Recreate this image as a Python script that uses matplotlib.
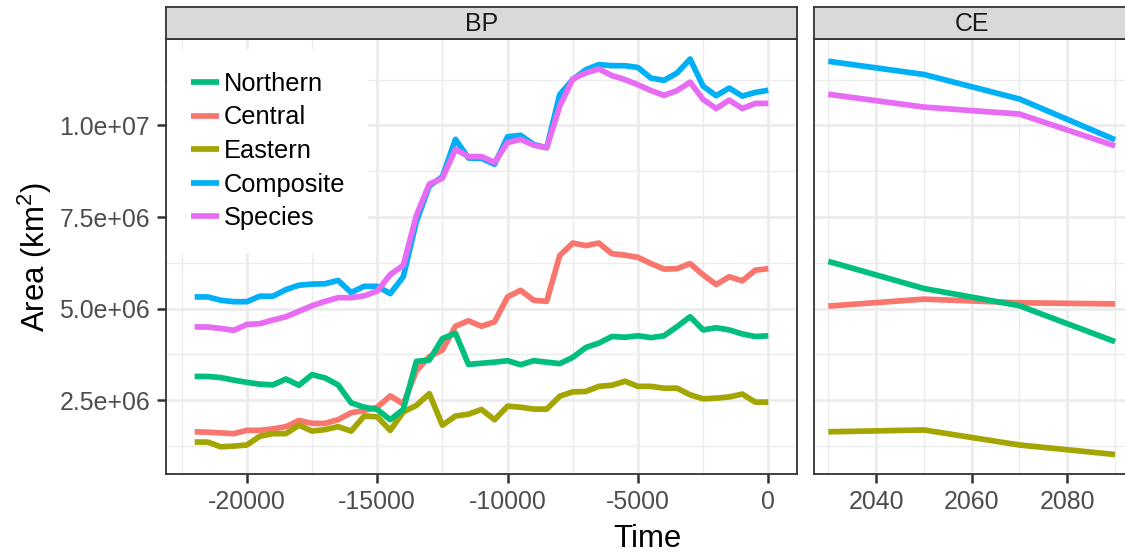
import numpy as np
import matplotlib
matplotlib.use("Agg")
import matplotlib.pyplot as plt
from matplotlib.ticker import FixedLocator, FuncFormatter

plt.rcParams['font.family'] = ['Liberation Sans', 'DejaVu Sans']
plt.rcParams['mathtext.fontset'] = 'custom'
plt.rcParams['mathtext.rm'] = 'Liberation Sans'
plt.rcParams['mathtext.it'] = 'Liberation Sans:italic'
plt.rcParams['axes.unicode_minus'] = False

# range area (km^2, in millions) through time
bp_time = np.arange(-22000, 1, 500)
ce_time = [2030, 2050, 2070, 2090]

bp_northern = [3.15, 3.15, 3.12, 3.05, 2.99, 2.94, 2.92, 3.08, 2.91, 3.20, 3.11, 2.92, 2.43, 2.31, 2.25,
               1.97, 2.25, 3.56, 3.60, 4.18, 4.33, 3.48, 3.51, 3.54, 3.58, 3.47, 3.58, 3.54, 3.50, 3.67,
               3.94, 4.06, 4.24, 4.22, 4.26, 4.21, 4.26, 4.51, 4.78, 4.42, 4.48, 4.42, 4.31, 4.24, 4.26]
bp_central = [1.64, 1.63, 1.61, 1.59, 1.68, 1.68, 1.72, 1.78, 1.95, 1.87, 1.87, 1.97, 2.16, 2.22, 2.31,
              2.62, 2.40, 3.30, 3.69, 3.87, 4.52, 4.67, 4.52, 4.64, 5.32, 5.50, 5.23, 5.20, 6.45, 6.79,
              6.72, 6.79, 6.50, 6.46, 6.40, 6.23, 6.08, 6.09, 6.23, 5.92, 5.66, 5.87, 5.76, 6.05, 6.09]
bp_eastern = [1.36, 1.36, 1.23, 1.25, 1.28, 1.52, 1.59, 1.59, 1.82, 1.66, 1.70, 1.78, 1.66, 2.07, 2.05,
              1.68, 2.18, 2.36, 2.68, 1.82, 2.07, 2.12, 2.25, 1.97, 2.34, 2.31, 2.26, 2.26, 2.61, 2.73,
              2.74, 2.88, 2.91, 3.02, 2.88, 2.88, 2.83, 2.83, 2.65, 2.54, 2.56, 2.59, 2.67, 2.45, 2.45]
bp_composite = [5.32, 5.32, 5.23, 5.19, 5.19, 5.34, 5.34, 5.52, 5.64, 5.67, 5.68, 5.77, 5.44, 5.61, 5.61,
                5.41, 5.87, 7.37, 8.35, 8.60, 9.62, 9.11, 9.10, 8.94, 9.69, 9.73, 9.48, 9.39, 10.84, 11.25,
                11.52, 11.66, 11.63, 11.63, 11.58, 11.29, 11.23, 11.43, 11.81, 11.07, 10.81, 11.02, 10.80, 10.90, 10.96]
bp_species = [4.50, 4.50, 4.46, 4.41, 4.57, 4.59, 4.69, 4.78, 4.93, 5.08, 5.20, 5.30, 5.30, 5.35, 5.48,
              5.93, 6.18, 7.54, 8.40, 8.56, 9.35, 9.15, 9.15, 8.99, 9.53, 9.62, 9.46, 9.39, 10.52, 11.27,
              11.43, 11.54, 11.36, 11.25, 11.11, 10.95, 10.82, 10.95, 11.18, 10.71, 10.46, 10.69, 10.46, 10.60, 10.60]

ce_northern = [6.29, 5.55, 5.08, 4.10]
ce_central = [5.07, 5.26, 5.16, 5.13]
ce_eastern = [1.64, 1.69, 1.28, 1.02]
ce_composite = [11.75, 11.39, 10.72, 9.61]
ce_species = [10.85, 10.50, 10.31, 9.44]

# drawing order = factor order; legend order differs
draw_order = ["Central", "Eastern", "Northern", "Composite", "Species"]
legend_order = ["Northern", "Central", "Eastern", "Composite", "Species"]
colors = {"Central": "#F8766D", "Eastern": "#A3A500", "Northern": "#00BF7D",
          "Composite": "#00B0F6", "Species": "#E76BF3"}
bp = {"Northern": bp_northern, "Central": bp_central, "Eastern": bp_eastern,
      "Composite": bp_composite, "Species": bp_species}
ce = {"Northern": ce_northern, "Central": ce_central, "Eastern": ce_eastern,
      "Composite": ce_composite, "Species": ce_species}

W, H = 1125, 554
def box(l, t, r, b):
    return [l / W, 1 - b / H, (r - l) / W, (b - t) / H]

fig = plt.figure(figsize=(W / 100, H / 100), dpi=100)
ax_bp = fig.add_axes(box(166, 39.3, 797, 474.3))
ax_ce = fig.add_axes(box(814, 39.3, 1129.4, 474.3))

handles = {}
for name in draw_order:
    handles[name], = ax_bp.plot(bp_time, np.array(bp[name]) * 1e6, color=colors[name], lw=4.1,
                                solid_capstyle='butt', solid_joinstyle='round', label=name, zorder=3)
    ax_ce.plot(ce_time, np.array(ce[name]) * 1e6, color=colors[name], lw=4.1,
               solid_capstyle='butt', solid_joinstyle='round', zorder=3)

# shared y range with 5% padding
allv = np.concatenate([np.concatenate([bp[k], ce[k]]) for k in draw_order]) * 1e6
lo, hi = allv.min(), allv.max()
pad = 0.05 * (hi - lo)

def xlim(t):
    span = max(t) - min(t)
    return min(t) - 0.05 * span, max(t) + 0.05 * span

ax_bp.set_xlim(*xlim(bp_time))
ax_ce.set_xlim(*xlim(ce_time))

y_major = [2.5e6, 5.0e6, 7.5e6, 1.0e7]
y_minor = [1.25e6, 3.75e6, 6.25e6, 8.75e6, 11.25e6]
for ax, xmaj, xmin in [(ax_bp, [-20000, -15000, -10000, -5000, 0], [-22500, -17500, -12500, -7500, -2500]),
                       (ax_ce, [2040, 2060, 2080], [2030, 2050, 2070, 2090])]:
    ax.set_ylim(lo - pad, hi + pad)
    ax.xaxis.set_major_locator(FixedLocator(xmaj))
    ax.xaxis.set_minor_locator(FixedLocator(xmin))
    ax.yaxis.set_major_locator(FixedLocator(y_major))
    ax.yaxis.set_minor_locator(FixedLocator(y_minor))
    ax.grid(which='major', color='#EBEBEB', lw=1.9, zorder=0)
    ax.grid(which='minor', color='#EBEBEB', lw=0.95, zorder=0)
    ax.set_axisbelow(True)
    for s in ax.spines.values():
        s.set_color('#333333')
        s.set_linewidth(1.3)
    ax.tick_params(which='major', length=6.5, width=1.8, color='#333333', labelsize=17.9,
                   labelcolor='#4D4D4D')
    ax.tick_params(which='minor', length=0)
    ax.tick_params(axis='x', pad=5)
    ax.tick_params(axis='y', pad=5)

ax_bp.yaxis.set_major_formatter(FuncFormatter(lambda v, p: f"{v:.1e}"))
ax_ce.tick_params(axis='y', which='both', left=False, labelleft=False)

# facet strips
for (l, r), label in [((166, 797), "BP"), ((814, 1129.4), "CE")]:
    sax = fig.add_axes(box(l, 7.3, r, 39.3))
    sax.set_facecolor('#D9D9D9')
    sax.set_xticks([])
    sax.set_yticks([])
    for s in sax.spines.values():
        s.set_color('#333333')
        s.set_linewidth(1.3)
    sax.text(0.5, 0.47, label, ha='center', va='center', fontsize=17.9, color='#1A1A1A',
             transform=sax.transAxes)

fig.text(647.7 / W, 1 - 547 / H, "Time", ha='center', va='baseline', fontsize=22.4)
fig.text(35 / W, 1 - 256.8 / H, "Area (km$^2$)", ha='center', va='center', rotation=90, fontsize=22.4)

leg = ax_bp.legend([handles[n] for n in legend_order], legend_order, loc='upper left',
                   bbox_to_anchor=(0.003, 0.978), fontsize=18.3, frameon=True, fancybox=False,
                   handlelength=1.1, handletextpad=0.2, labelspacing=0.38, borderpad=0.9,
                   borderaxespad=0)
leg.get_frame().set_facecolor('white')
leg.get_frame().set_edgecolor('none')
leg.get_frame().set_alpha(1)
leg.set_zorder(5)

fig.savefig("out.png", dpi=100)
